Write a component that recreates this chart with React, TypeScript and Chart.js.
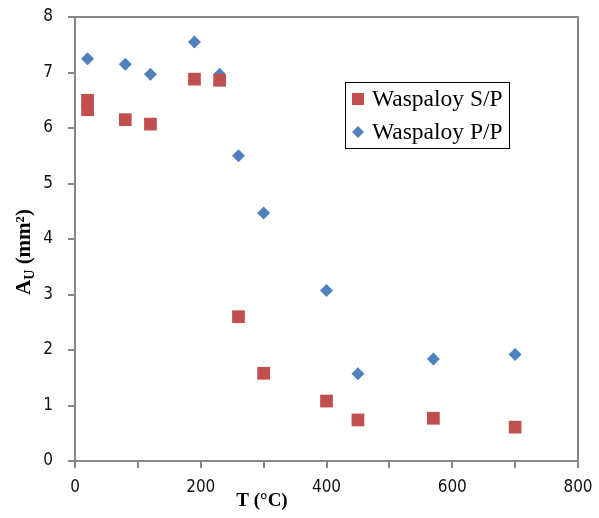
import React, { useEffect, useRef } from 'react';
import { Chart, registerables } from 'chart.js';

Chart.register(...registerables);

const temps = [20, 20, 80, 120, 190, 230, 260, 300, 400, 450, 570, 700];
const spValues = [6.5, 6.33, 6.15, 6.07, 6.88, 6.86, 2.6, 1.58, 1.08, 0.74, 0.77, 0.61];
const ppTemps = [20, 80, 120, 190, 230, 260, 300, 400, 450, 570, 700];
const ppValues = [7.25, 7.15, 6.97, 7.55, 6.97, 5.5, 4.47, 3.07, 1.57, 1.84, 1.92];
const xTickLabels = ['0', '200', '400', '600', '800'];
const seriesNames = ['Waspaloy S/P', 'Waspaloy P/P'];

const RED = '#C0504D';
const BLUE = '#4F81BD';
const AXIS = '#868686';
const TICK_FONT = '"DejaVu Sans Condensed", "DejaVu Sans", sans-serif';

const framePlugin = {
  id: 'frame',
  afterDraw(chart: any) {
    const { ctx, chartArea } = chart;
    const { left, right, top, bottom } = chartArea;
    ctx.save();
    ctx.strokeStyle = AXIS;
    ctx.lineWidth = 2;
    ctx.strokeRect(left, top, right - left, bottom - top);

    // x title
    ctx.fillStyle = '#000';
    ctx.font = 'bold 19px "Liberation Serif"';
    ctx.textAlign = 'center';
    ctx.textBaseline = 'middle';
    ctx.fillText('T (\u00B0C)', 262, 501);

    // y title (rotated)
    ctx.translate(23, 252);
    ctx.rotate(-Math.PI / 2);
    ctx.textAlign = 'left';
    ctx.textBaseline = 'alphabetic';
    const main = 'bold 21px "Liberation Serif"';
    const sub = 'bold 14px "Liberation Serif"';
    ctx.font = main;
    const wA = ctx.measureText('A').width;
    ctx.font = sub;
    const wU = ctx.measureText('U').width;
    ctx.font = main;
    const wRest = ctx.measureText(' (mm\u00B2)').width;
    const total = wA + wU + wRest;
    let x = -total / 2;
    ctx.fillText('A', x, 7);
    x += wA;
    ctx.font = sub;
    ctx.fillText('U', x, 11);
    x += wU;
    ctx.font = main;
    ctx.fillText(' (mm\u00B2)', x, 7);
    ctx.restore();

    // legend
    ctx.save();
    const lx = 345, ly = 82, lw = 164, lh = 66;
    ctx.fillStyle = '#fff';
    ctx.fillRect(lx, ly, lw, lh);
    ctx.strokeStyle = '#000';
    ctx.lineWidth = 1;
    ctx.strokeRect(lx + 0.5, ly + 0.5, lw, lh);
    ctx.font = '23.5px "Liberation Serif"';
    ctx.textBaseline = 'middle';
    ctx.textAlign = 'left';
    chart.data.datasets.forEach((ds: any, i: number) => {
      const cy = ly + 17 + i * 33;
      const cx = lx + 13;
      ctx.fillStyle = ds.backgroundColor;
      if (ds.pointStyle === 'rect') {
        ctx.fillRect(cx - 6, cy - 6, 12, 12);
      } else {
        ctx.beginPath();
        ctx.moveTo(cx, cy - 6);
        ctx.lineTo(cx + 6, cy);
        ctx.lineTo(cx, cy + 6);
        ctx.lineTo(cx - 6, cy);
        ctx.closePath();
        ctx.fill();
      }
      ctx.fillStyle = '#000';
      ctx.fillText(ds.label, lx + 27, cy + 1);
    });
    ctx.restore();
  },
};

export default function App() {
  const ref = useRef<HTMLCanvasElement>(null);
  useEffect(() => {
    if (!ref.current) return;
    const chart = new Chart(ref.current, {
      type: 'scatter',
      data: {
        datasets: [
          {
            label: seriesNames[0],
            data: temps.map((t, i) => ({ x: t, y: spValues[i] })),
            backgroundColor: RED,
            borderColor: RED,
            pointStyle: 'rect',
            pointRadius: 9,
            pointBorderWidth: 0,
          },
          {
            label: seriesNames[1],
            data: ppTemps.map((t, i) => ({ x: t, y: ppValues[i] })),
            backgroundColor: BLUE,
            borderColor: BLUE,
            pointStyle: 'rectRot',
            pointRadius: 6.5,
            pointBorderWidth: 0,
          },
        ],
      },
      options: {
        responsive: false,
        animation: false,
        layout: { padding: { left: 0, top: 17, right: 21, bottom: 0 } },
        plugins: { legend: { display: false }, tooltip: { enabled: false } },
        scales: {
          x: {
            type: 'linear',
            min: 0,
            max: 800,
            afterFit: (s: any) => { s.height = 57; s.paddingLeft = 0; s.paddingRight = 0; },
            ticks: {
              stepSize: 100,
              autoSkip: false,
              maxRotation: 0,
              padding: 9,
              color: '#111',
              font: { family: TICK_FONT, size: 17 },
              callback: (v: any) => {
                const idx = xTickLabels.indexOf(String(v));
                return idx >= 0 ? xTickLabels[idx] : '';
              },
            },
            grid: { drawOnChartArea: false, color: AXIS, tickLength: 7, lineWidth: 2 },
            border: { color: AXIS, width: 2 },
          },
          y: {
            type: 'linear',
            min: 0,
            max: 8,
            afterFit: (s: any) => { s.width = 75; s.paddingTop = 0; s.paddingBottom = 0; },
            ticks: {
              stepSize: 1,
              padding: 15,
              color: '#111',
              font: { family: TICK_FONT, size: 17 },
            },
            grid: { drawOnChartArea: false, color: AXIS, tickLength: 7, lineWidth: 2 },
            border: { color: AXIS, width: 2 },
          },
        },
      },
      plugins: [framePlugin],
    });
    return () => chart.destroy();
  }, []);
  return (
    <div style={{ position: 'fixed', left: 0, top: 0, width: 599, height: 518, background: '#fff' }}>
      <canvas ref={ref} width={599} height={518} style={{ display: 'block' }} />
    </div>
  );
}
